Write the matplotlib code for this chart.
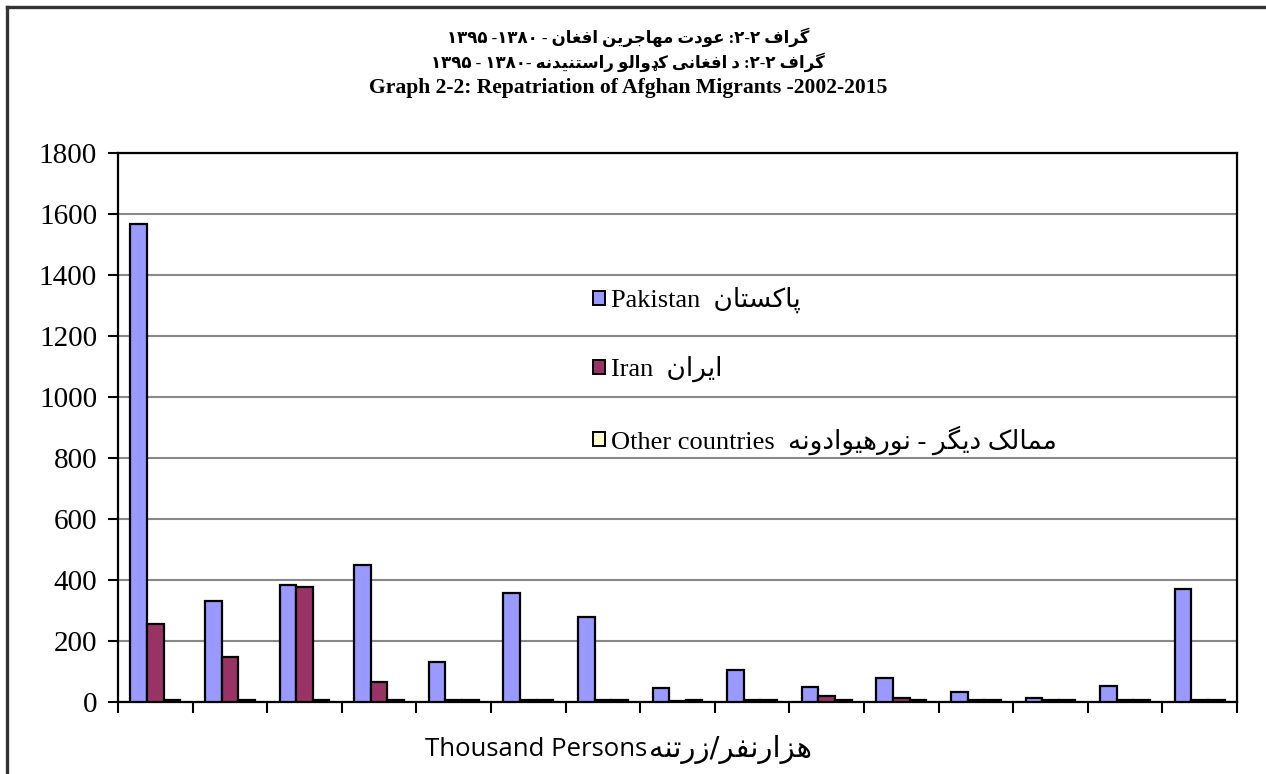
import re

import matplotlib
matplotlib.use('Agg')
import matplotlib.pyplot as plt
import numpy as np
from matplotlib.lines import Line2D

# presentation-form start (isolated, final, initial, medial) and whether the letter joins forward
FORMS = {
    'ا': (0xFE8D, False), 'ب': (0xFE8F, True), 'ت': (0xFE95, True),
    'ج': (0xFE9D, True), 'د': (0xFEA9, False), 'ر': (0xFEAD, False),
    'ز': (0xFEAF, False), 'س': (0xFEB1, True), 'ع': (0xFEC9, True),
    'غ': (0xFECD, True), 'ف': (0xFED1, True), 'ل': (0xFEDD, True),
    'م': (0xFEE1, True), 'ن': (0xFEE5, True), 'ه': (0xFEE9, True),
    'و': (0xFEED, False), 'ی': (0xFBFC, True), 'ک': (0xFB8E, True),
    'گ': (0xFB92, True), 'پ': (0xFB56, True), 'ډ': (None, False),
}


def fa(text):
    # shape the Persian letters and put the line in visual (left to right) order
    out = []
    for i, ch in enumerate(text):
        if ch not in FORMS:
            out.append(ch)
            continue
        start, dual = FORMS[ch]
        prev = text[i - 1] if i > 0 else ''
        nxt = text[i + 1] if i + 1 < len(text) else ''
        joins_prev = prev in FORMS and FORMS[prev][1]
        joins_next = dual and nxt in FORMS
        form = (3 if joins_next else 1) if joins_prev else (2 if joins_next else 0)
        out.append(ch if start is None else chr(start + form))
    s = ''.join(out)[::-1]
    return re.sub(r'[0-9A-Za-z\u06F0-\u06F9]+', lambda m: m.group(0)[::-1], s)


# data (thousand persons), one group per year
pakistan = [1567, 330, 384, 450, 132, 358, 278, 47, 106, 48, 80, 34, 14, 53, 370]
iran = [257, 146, 376, 65, 5, 5, 5, 4, 5, 21, 14, 5, 5, 5, 5]
other = [7, 6, 6, 6, 5, 5, 5, 5, 5, 5, 5, 5, 5, 5, 5]

series_names = [
    'Pakistan  ' + fa('پاکستان'),
    'Iran  ' + fa('ایران'),
    'Other countries  ' + fa('ممالک دیگر - نورهیوادونه'),
]
colors = ['#9999FF', '#993366', '#FFFFCC']

title_fa1 = fa('گراف ۲-۲: عودت مهاجرین افغان - ۱۳۸۰- ۱۳۹۵')
title_fa2 = fa('گراف ۲-۲: د افغانی کډوالو راستنیدنه -۱۳۸۰ - ۱۳۹۵')
title_en = 'Graph 2-2: Repatriation of Afghan Migrants -2002-2015'
x_label_en = 'Thousand Persons'
x_label_fa = fa('هزارنفر/زرتنه')

serif = ['Liberation Serif', 'DejaVu Sans']
W, H = 1266, 774

fig = plt.figure(figsize=(W / 100, H / 100), dpi=100)
ax = fig.add_axes([118 / W, 1 - 702 / H, (1237 - 118) / W, (702 - 153) / H])

x = np.arange(len(pakistan))
w = 1 / 4.5
handles = []
for k, (vals, c) in enumerate(zip([pakistan, iran, other], colors)):
    b = ax.bar(x + (k - 1) * w, vals, width=w, color=c, edgecolor='black',
               linewidth=1.6, zorder=3, label=series_names[k])
    handles.append(b)

ax.set_xlim(-0.5, len(pakistan) - 0.5)
ax.set_ylim(0, 1800)
ax.set_yticks(np.arange(0, 1801, 200))
ax.set_xticks(np.arange(len(pakistan) + 1) - 0.5)
ax.set_xticklabels([])
ax.tick_params(axis='x', direction='out', length=8, width=1.5)
ax.tick_params(axis='y', direction='out', length=7, width=1.5, pad=8)
for lab in ax.get_yticklabels():
    lab.set_fontfamily(serif)
    lab.set_fontsize(21)
ax.grid(axis='y', color='#888888', linewidth=1.5, zorder=0)
for sp in ax.spines.values():
    sp.set_linewidth(1.6)
    sp.set_color('black')

leg = ax.legend(handles=handles, loc='upper left', bbox_to_anchor=(593 / W, 1 - 287 / H),
                bbox_transform=fig.transFigure, frameon=False,
                prop={'family': serif, 'size': 19}, handlelength=0.45, handleheight=0.45,
                handletextpad=0.25, labelspacing=1.62, borderpad=0, borderaxespad=0)
for p in leg.get_patches():
    p.set_linewidth(1.4)

fig.text(628 / W, 1 - 37 / H, title_fa1, ha='center', va='center',
         fontsize=12, fontweight='bold', family=serif)
fig.text(628 / W, 1 - 62 / H, title_fa2, ha='center', va='center',
         fontsize=12, fontweight='bold', family=serif)
fig.text(628 / W, 1 - 88 / H, title_en, ha='center', va='center',
         fontsize=15.6, fontweight='bold', family=serif)
fig.text(647 / W, 1 - 749 / H, x_label_en, ha='right', va='center',
         fontsize=18.5, family=['Open Sans', 'DejaVu Sans'])
fig.text(649 / W, 1 - 749 / H, x_label_fa, ha='left', va='center',
         fontsize=21, family=['DejaVu Sans'])

# frame of the chart area (top and left edges only are visible)
fig.add_artist(Line2D([7 / W, 1], [1 - 7 / H, 1 - 7 / H], transform=fig.transFigure,
                      color='#333333', linewidth=2.4))
fig.add_artist(Line2D([7 / W, 7 / W], [0, 1 - 7 / H], transform=fig.transFigure,
                      color='#333333', linewidth=2.4))

fig.savefig('out.png', dpi=100)
